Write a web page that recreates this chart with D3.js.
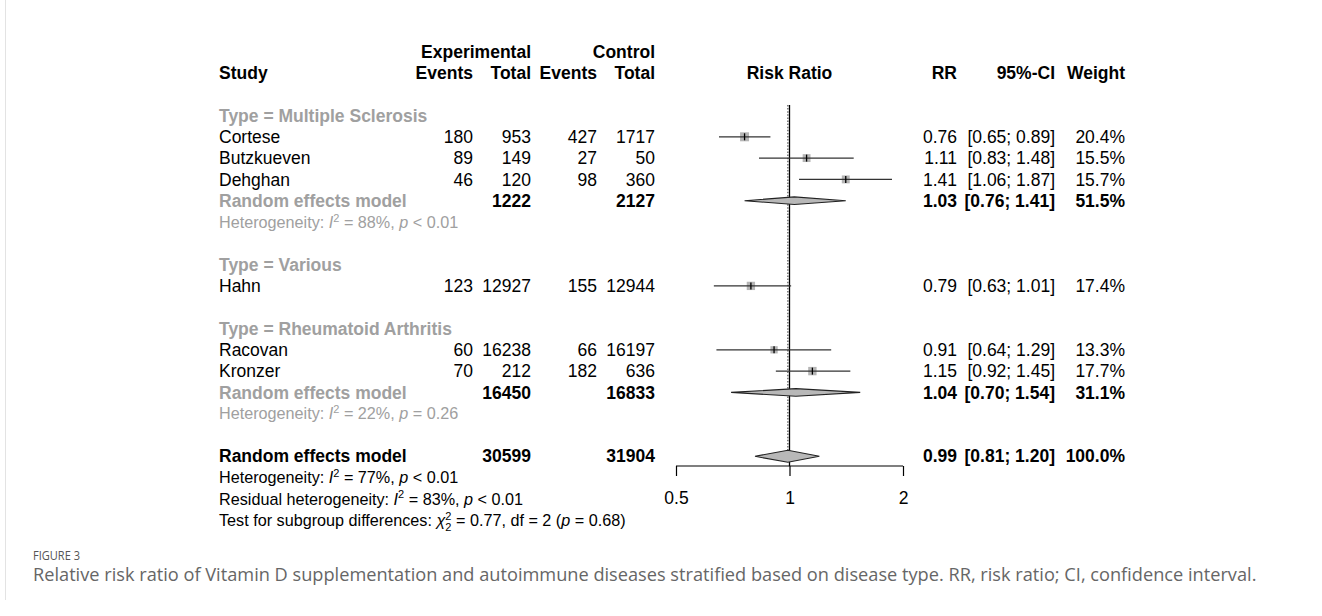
<!DOCTYPE html>
<html>
<head>
<meta charset="utf-8">
<script src="https://cdn.jsdelivr.net/npm/d3@7"></script>
<style>
  body { margin: 0; background: #fff; }
  svg text { font-family: "Liberation Sans", Arial, sans-serif; }
  svg text.caption { font-family: "Open Sans", Lato, sans-serif; }
</style>
</head>
<body>
<svg id="chart" width="1322" height="616"></svg>
<script>
var width = 1322,
	height = 616;

// study level data
var studies = ["Cortese", "Butzkueven", "Dehghan", "Hahn", "Racovan", "Kronzer"];
var studyRow = [1, 2, 3, 8, 11, 12];
var expEvents = [180, 89, 46, 123, 60, 70];
var expTotal = [953, 149, 120, 12927, 16238, 212];
var ctrlEvents = [427, 27, 98, 155, 66, 182];
var ctrlTotal = [1717, 50, 360, 12944, 16197, 636];
var rr = [0.76, 1.11, 1.41, 0.79, 0.91, 1.15];
var lower = [0.65, 0.83, 1.06, 0.63, 0.64, 0.92];
var upper = [0.89, 1.48, 1.87, 1.01, 1.29, 1.45];
var weight = [20.4, 15.5, 15.7, 17.4, 13.3, 17.7];

// subgroups
var subgroupNames = ["Type = Multiple Sclerosis", "Type = Various", "Type = Rheumatoid Arthritis"];
var subgroupRow = [0, 7, 10];

// pooled estimates (two subgroups + overall)
var pooledRow = [4, 13, 16];
var pooledExpTotal = [1222, 16450, 30599];
var pooledCtrlTotal = [2127, 16833, 31904];
var pooledRR = [1.03, 1.04, 0.99];
var pooledLower = [0.76, 0.70, 0.81];
var pooledUpper = [1.41, 1.54, 1.20];
var pooledWeight = [51.5, 31.1, 100.0];
var pooledSub = [true, true, false];

// heterogeneity lines
var hetRow = [5, 14, 17];
var hetI2 = [88, 22, 77];
var hetP = ["< 0.01", "= 0.26", "< 0.01"];

var ticks = [0.5, 1, 2];

var fs = 17.5, fsHet = 16.2;
var grey = "#a0a0a0";

var svg = d3.select("#chart");

var x = d3.scaleLog()
	.domain([0.5, 2])
	.range([676, 903]);

var y = d3.scaleLinear()
	.domain([0, 19])
	.range([115.5, 520.2]);

var f2 = d3.format(".2f"),
	f1 = d3.format(".1f");

// column right edges
var col = {study: 219, expEv: 473, expTot: 531, ctrlEv: 597, ctrlTot: 655, rr: 957, ci: 1055, w: 1125};

// faint frame line at left
svg.append("line")
	.attr("x1", 5.5).attr("x2", 5.5)
	.attr("y1", 0).attr("y2", 600)
	.attr("stroke", "#e3e3e3");

function txt(xp, yp, s, opts) {
	opts = opts || {};
	return svg.append("text")
		.attr("x", xp)
		.attr("y", yp)
		.attr("dy", "0.35em")
		.attr("text-anchor", opts.anchor || "start")
		.attr("font-size", opts.size || fs)
		.attr("font-weight", opts.bold ? "bold" : "normal")
		.attr("fill", opts.color || "#000")
		.text(s);
}

// header
txt(col.expTot, y(-3), "Experimental", {anchor: "end", bold: true});
txt(col.ctrlTot, y(-3), "Control", {anchor: "end", bold: true});
txt(col.study, y(-2), "Study", {bold: true});
txt(col.expEv, y(-2), "Events", {anchor: "end", bold: true});
txt(col.expTot, y(-2), "Total", {anchor: "end", bold: true});
txt(col.ctrlEv, y(-2), "Events", {anchor: "end", bold: true});
txt(col.ctrlTot, y(-2), "Total", {anchor: "end", bold: true});
txt(x(1), y(-2), "Risk Ratio", {anchor: "middle", bold: true});
txt(col.rr, y(-2), "RR", {anchor: "end", bold: true});
txt(col.ci, y(-2), "95%-CI", {anchor: "end", bold: true});
txt(col.w, y(-2), "Weight", {anchor: "end", bold: true});

// subgroup labels
subgroupNames.forEach(function(d, i) {
	txt(col.study, y(subgroupRow[i]), d, {bold: true, color: grey});
});

// reference lines
svg.append("line")
	.attr("x1", x(1)).attr("x2", x(1))
	.attr("y1", 105).attr("y2", 466)
	.attr("stroke", "#000").attr("stroke-width", 1.3);
svg.append("line")
	.attr("x1", x(pooledRR[2])).attr("x2", x(pooledRR[2]))
	.attr("y1", 105).attr("y2", y(16) - 6)
	.attr("stroke", "#666").attr("stroke-width", 1.4)
	.attr("stroke-dasharray", "1.5,1.6");

// study rows
studies.forEach(function(d, i) {
	var yy = y(studyRow[i]);
	txt(col.study, yy, d);
	txt(col.expEv, yy, expEvents[i], {anchor: "end"});
	txt(col.expTot, yy, expTotal[i], {anchor: "end"});
	txt(col.ctrlEv, yy, ctrlEvents[i], {anchor: "end"});
	txt(col.ctrlTot, yy, ctrlTotal[i], {anchor: "end"});
	txt(col.rr, yy, f2(rr[i]), {anchor: "end"});
	txt(col.ci, yy, "[" + f2(lower[i]) + "; " + f2(upper[i]) + "]", {anchor: "end"});
	txt(col.w, yy, f1(weight[i]) + "%", {anchor: "end"});

	var g = svg.append("g");
	var side = 9 * Math.sqrt(weight[i] / 20.4);
	g.append("rect")
		.attr("x", x(rr[i]) - side / 2)
		.attr("y", yy - side / 2)
		.attr("width", side)
		.attr("height", side)
		.attr("fill", "#b5b5b5");
	g.append("line")
		.attr("x1", x(lower[i])).attr("x2", x(upper[i]))
		.attr("y1", yy).attr("y2", yy)
		.attr("stroke", "#333").attr("stroke-width", 1.3);
	g.append("line")
		.attr("x1", x(rr[i])).attr("x2", x(rr[i]))
		.attr("y1", yy - 3.5).attr("y2", yy + 3.5)
		.attr("stroke", "#000").attr("stroke-width", 1.3);
});

// pooled rows
pooledRow.forEach(function(r, i) {
	var yy = y(r);
	var sub = pooledSub[i];
	txt(col.study, yy, "Random effects model", {bold: true, color: sub ? grey : "#000"});
	txt(col.expTot, yy, pooledExpTotal[i], {anchor: "end", bold: true});
	txt(col.ctrlTot, yy, pooledCtrlTotal[i], {anchor: "end", bold: true});
	txt(col.rr, yy, f2(pooledRR[i]), {anchor: "end", bold: true});
	txt(col.ci, yy, "[" + f2(pooledLower[i]) + "; " + f2(pooledUpper[i]) + "]", {anchor: "end", bold: true});
	txt(col.w, yy, f1(pooledWeight[i]) + "%", {anchor: "end", bold: true});

	var h = sub ? 3.8 : 6;
	var pts = [[x(pooledLower[i]), yy], [x(pooledRR[i]), yy - h], [x(pooledUpper[i]), yy], [x(pooledRR[i]), yy + h]];
	svg.append("polygon")
		.attr("points", pts.map(function(p) { return p.join(","); }).join(" "))
		.attr("fill", "#b8b8b8")
		.attr("stroke", "#222")
		.attr("stroke-width", 1.1);
});

// text with italic / superscript / subscript pieces
function richText(xp, yp, parts, size, color) {
	var t = svg.append("text")
		.attr("x", xp).attr("y", yp)
		.attr("dy", "0.35em")
		.attr("font-size", size)
		.attr("fill", color);
	var shift = 0;
	parts.forEach(function(p) {
		var s = t.append("tspan").text(p.t);
		var target = 0;
		if (p.sup) target = -size * 0.38;
		if (p.sub) target = size * 0.3;
		if (p.sup || p.sub) s.attr("font-size", size * 0.68);
		if (target - shift != 0) s.attr("dy", target - shift);
		shift = target;
		if (p.it) s.attr("font-style", "italic");
		if (p.dx) s.attr("dx", p.dx);
	});
	return t;
}

hetRow.forEach(function(r, i) {
	richText(col.study, y(r), [
		{t: "Heterogeneity: "}, {t: "I", it: true}, {t: "2", sup: true},
		{t: " = " + hetI2[i] + "%, "}, {t: "p", it: true}, {t: " " + hetP[i]}
	], fsHet, pooledSub[i] ? grey : "#000");
});

richText(col.study, y(18), [
	{t: "Residual heterogeneity: "}, {t: "I", it: true}, {t: "2", sup: true},
	{t: " = 83%, "}, {t: "p", it: true}, {t: " < 0.01"}
], fsHet, "#000");

richText(col.study, y(19), [
	{t: "Test for subgroup differences: "}, {t: "\u03c7", it: true}, {t: "2", sup: true},
	{t: "2", sub: true, dx: -fsHet * 0.68 * 0.556}, {t: " = 0.77, df = 2 ("}, {t: "p", it: true}, {t: " = 0.68)"}
], fsHet, "#000");

// x axis
var axis = svg.append("g")
	.attr("transform", "translate(0,466)")
	.call(d3.axisBottom(x)
		.tickValues(ticks)
		.tickFormat(function(d) { return d; })
		.tickSize(10)
		.tickSizeOuter(0)
		.tickPadding(16));
axis.select(".domain").attr("stroke", "#000").attr("stroke-width", 1.2).attr("d", "M" + x(0.5) + ",0H" + x(2));
axis.selectAll(".tick line").attr("stroke", "#000").attr("stroke-width", 1.2);
axis.selectAll(".tick text")
	.attr("font-size", fs)
	.attr("fill", "#000");

// caption
svg.append("text")
	.attr("class", "caption")
	.attr("x", 33).attr("y", 560)
	.attr("font-size", 13.5)
	.attr("fill", "#555")
	.attr("textLength", 47)
	.attr("lengthAdjust", "spacingAndGlyphs")
	.text("FIGURE 3");

var cap = svg.append("text")
	.attr("class", "caption")
	.attr("x", 33).attr("y", 580.5)
	.attr("font-size", 16)
	.attr("fill", "#666")
	.text("Relative risk ratio of Vitamin D supplementation and autoimmune diseases stratified based on disease type. RR, risk ratio; CI, confidence interval.");
var capW = cap.node().getComputedTextLength();
cap.attr("font-size", 16 * 1224 / capW);
</script>
</body>
</html>
